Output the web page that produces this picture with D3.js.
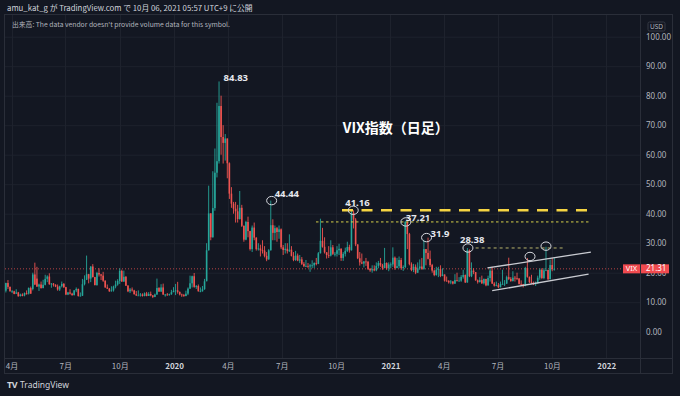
<!DOCTYPE html>
<html>
<head>
<meta charset="utf-8">
<script src="https://cdn.jsdelivr.net/npm/d3@7"></script>
<style>
  body { margin: 0; background: #131722; }
  svg { display: block; font-family: "Noto Sans", "Noto Sans CJK JP", sans-serif; }
</style>
</head>
<body>
<script>
// VIX daily chart, resampled to half-week candles [open, high, low, close]
// each year list starts on the Monday given in weekStarts; two candles per week
const weekStarts = { y2019: "2019-03-18", y2020: "2020-01-06", y2021: "2021-01-04" }

const vix2019 = [
  [13.0,14.6,12.7,13.9],[13.9,16.6,13.3,16.5], [16.5,17.5,14.5,15.2],[15.2,15.3,13.6,13.7],
  [13.6,14.1,13.1,13.7],[13.7,13.9,12.7,12.8], [12.9,14.4,12.8,13.3],[13.3,13.5,11.9,12.0],
  [12.1,12.9,11.9,12.6],[12.6,13.0,12.0,12.1], [12.3,13.3,12.0,13.1],[13.1,14.0,12.6,12.7],
  [12.9,15.0,12.6,14.8],[14.8,15.3,12.8,12.9], [14.5,20.0,14.0,19.4],[19.4,23.4,15.8,16.0],
  [18.0,22.0,15.2,15.3],[15.3,16.3,13.8,16.0], [16.0,17.0,14.6,14.8],[14.8,17.6,14.7,15.9],
  [15.9,19.3,15.7,17.9],[17.9,19.1,16.8,18.7], [18.7,19.8,15.9,16.1],[16.1,16.5,14.9,16.3],
  [16.3,16.5,15.3,15.9],[15.9,16.1,15.1,15.3], [15.3,16.0,13.9,14.3],[14.3,15.6,13.8,15.4],
  [15.4,17.0,15.0,16.2],[16.2,16.5,14.8,15.1], [15.1,15.2,12.4,12.6],[12.6,13.5,12.4,13.3],
  [13.3,14.4,12.6,12.9],[12.9,13.2,12.2,12.4], [12.4,14.1,12.3,14.0],[14.0,15.0,13.4,14.5],
  [14.5,14.6,11.9,12.1],[12.1,13.3,12.0,12.2], [12.2,17.9,12.1,16.1],[16.1,19.1,15.7,17.6],
  [17.6,25.8,17.5,19.5],[19.5,19.6,16.4,18.0], [18.0,22.2,16.8,22.1],[22.1,22.9,18.4,18.5],
  [18.5,18.6,15.7,15.8],[15.8,20.3,15.6,19.9], [19.9,21.5,18.7,19.4],[19.4,19.6,17.5,19.0],
  [19.0,20.3,16.9,17.3],[17.3,17.4,14.9,15.0], [15.0,16.0,14.5,14.6],[14.6,14.8,13.5,13.7],
  [13.7,15.4,13.6,14.0],[14.0,15.6,13.6,15.3], [15.3,17.3,14.7,16.0],[16.0,17.8,15.6,17.2],
  [17.2,21.5,16.2,20.6],[20.6,21.0,16.9,17.0], [17.0,20.7,16.9,18.6],[18.6,18.9,15.5,15.6],
  [15.6,15.8,13.4,13.7],[13.7,14.8,13.1,14.3], [14.3,15.0,13.6,14.0],[14.0,14.2,12.6,12.7],
  [12.7,13.8,12.1,12.3],[12.3,14.0,12.2,12.3], [12.3,13.1,11.9,12.6],[12.6,13.0,11.9,12.1],
  [12.1,13.3,12.0,13.0],[13.0,13.5,12.0,12.1], [12.1,13.4,12.1,12.8],[12.8,13.6,12.0,12.3],
  [12.3,12.4,11.4,11.8],[11.8,12.9,11.7,12.6], [12.6,18.0,12.5,14.8],[14.8,15.1,13.5,13.6],
  [13.6,16.1,13.5,15.0],[15.0,16.3,12.5,12.6], [12.6,12.8,11.9,12.6],[12.6,13.1,12.2,12.5],
  [12.5,12.9,12.2,12.7],[12.7,14.2,12.5,13.4], [13.4,15.1,13.4,13.8],[13.8,16.2,12.4,14.0]
]

const vix2020 = [
  [14.0,16.9,12.9,13.5],[13.5,13.6,12.3,12.6], [12.6,12.9,11.8,12.4],[12.4,12.8,11.8,12.1],
  [12.1,13.9,12.0,12.9],[12.9,15.0,12.4,14.6], [14.6,19.0,14.5,16.4],[16.4,19.0,15.0,18.8],
  [18.8,19.9,14.9,15.2],[15.2,15.8,14.5,15.5], [15.5,16.0,13.6,13.7],[13.7,15.0,13.4,13.7],
  [13.7,15.5,13.6,14.4],[14.4,17.9,14.2,17.1], [17.1,30.0,17.1,27.6],[27.6,49.5,27.5,40.1],
  [40.1,40.2,31.0,32.0],[32.0,54.4,31.9,41.9], [41.9,62.1,41.0,53.9],[53.9,77.6,52.3,57.8],
  [57.8,84.83,57.0,76.5],[76.5,80.0,60.0,66.0], [66.0,70.0,57.0,64.0],[64.0,67.0,58.0,65.5],
  [65.5,65.5,52.0,57.1],[57.1,57.4,45.0,46.8], [46.8,49.0,42.0,43.4],[43.4,44.0,40.0,41.7],
  [41.7,44.0,37.0,40.8],[40.8,43.0,37.0,38.2], [38.2,47.7,38.0,42.0],[42.0,43.0,35.5,35.9],
  [35.9,36.0,30.5,31.2],[31.2,37.6,31.0,37.2], [37.2,39.0,32.0,34.1],[34.1,34.2,27.5,28.0],
  [28.0,36.0,27.0,35.3],[35.3,37.0,31.0,31.9], [31.9,32.0,27.5,28.0],[28.0,30.0,27.5,28.2],
  [28.2,29.5,25.5,27.6],[27.6,31.0,26.5,27.5], [27.5,29.0,25.2,25.7],[25.7,27.0,23.9,24.5],
  [24.5,28.0,24.4,27.6],[27.6,44.44,27.5,36.1], [36.1,38.1,31.0,33.5],[33.5,36.0,31.0,35.1],
  [35.1,35.5,30.5,33.8],[33.8,36.0,31.5,34.7], [34.7,35.0,28.0,28.6],[28.6,29.4,26.0,27.7],
  [27.7,30.0,26.5,28.1],[28.1,30.0,26.5,27.3], [27.3,33.0,27.0,27.8],[27.8,29.0,25.5,25.7],
  [25.7,27.0,23.9,24.3],[24.3,27.4,24.0,25.8], [25.8,26.5,23.9,24.1],[24.1,26.0,23.3,24.5],
  [24.5,25.3,22.6,23.0],[23.0,23.6,21.9,22.2], [22.2,24.3,21.9,22.3],[22.3,23.3,21.6,22.1],
  [22.1,23.0,20.3,22.5],[22.5,24.2,21.5,22.5], [22.5,23.5,21.6,23.3],[23.3,25.0,22.5,23.0],
  [23.0,27.0,22.9,26.6],[26.6,38.3,26.5,30.8], [30.8,35.2,28.5,28.8],[28.8,32.0,26.5,26.9],
  [26.9,27.0,24.8,26.0],[26.0,29.0,25.0,25.8], [25.8,31.0,25.5,28.6],[28.6,29.4,26.0,26.4],
  [26.4,27.0,25.5,26.4],[26.4,29.0,25.5,27.6], [27.6,29.8,26.0,28.1],[28.1,28.3,24.0,25.0],
  [25.0,27.0,24.0,26.4],[26.4,28.5,25.5,27.4], [27.4,30.5,27.0,28.7],[28.7,29.5,26.8,27.6],
  [27.6,41.0,27.5,40.3],[40.3,41.16,35.0,38.0], [38.0,38.5,29.0,29.6],[29.6,29.6,24.6,24.9],
  [24.9,27.0,22.4,23.5],[23.5,26.5,22.9,23.1], [23.1,24.0,21.8,23.8],[23.8,25.0,22.3,23.7],
  [23.7,24.0,20.9,21.3],[21.3,21.6,20.3,20.8], [20.8,22.5,20.0,21.2],[21.2,22.5,20.5,20.8],
  [20.8,23.5,20.5,22.3],[22.3,24.0,21.5,23.3], [23.3,25.0,22.0,22.5],[22.5,23.0,21.0,21.6],
  [21.6,28.4,21.5,23.3],[23.3,23.5,21.0,21.5], [21.5,23.5,20.5,22.8],[22.8,23.5,21.5,22.8]
]

const vix2021 = [
  [22.8,28.6,22.0,25.1],[25.1,25.5,21.0,21.6], [21.6,25.0,21.5,22.2],[22.2,25.5,21.5,24.3],
  [24.3,25.0,21.0,21.6],[21.6,22.5,20.6,21.9], [21.9,37.51,21.5,37.2],[37.2,37.3,28.0,33.1],
  [33.1,33.5,22.5,22.9],[22.9,23.5,20.5,20.9], [20.9,23.0,20.2,22.0],[22.0,22.8,19.5,20.0],
  [20.0,23.5,19.9,21.5],[21.5,24.5,21.0,22.1], [22.1,25.0,21.0,21.3],[21.3,31.16,21.0,28.0],
  [28.0,28.0,22.5,26.7],[26.7,31.9,24.5,24.7], [24.7,27.5,22.0,22.6],[22.6,23.0,20.0,20.7],
  [20.7,21.0,18.8,19.2],[19.2,22.0,19.0,21.0], [21.0,22.0,18.5,21.2],[21.2,22.5,18.5,18.9],
  [18.9,21.5,18.8,19.4],[19.4,19.4,17.0,17.3], [17.3,18.7,17.0,17.2],[17.2,17.5,16.3,16.7],
  [16.7,17.5,16.1,17.0],[17.0,17.2,16.0,16.3], [16.3,19.5,16.2,17.5],[17.5,20.0,17.0,17.3],
  [17.3,18.5,17.0,17.3],[17.3,19.2,16.9,18.6], [18.6,21.0,18.0,19.2],[19.2,19.4,16.5,16.7],
  [16.7,28.38,16.6,27.6],[27.6,27.9,18.5,18.8], [18.8,23.5,18.5,20.7],[20.7,21.5,19.5,20.2],
  [20.2,20.2,17.3,17.4],[17.4,17.7,16.3,16.8], [16.8,18.5,16.7,17.5],[17.5,19.0,16.2,16.4],
  [16.4,18.0,16.0,17.9],[17.9,17.9,15.4,15.7], [15.7,19.0,15.6,18.2],[18.2,21.8,17.0,20.7],
  [20.7,22.0,16.2,16.3],[16.3,16.8,15.3,15.6], [15.6,17.0,15.4,15.8],[15.8,16.5,14.8,15.1],
  [15.1,17.0,15.0,16.2],[16.2,21.0,16.0,16.2], [16.2,17.5,15.5,16.3],[16.3,19.0,16.2,18.5],
  [18.5,25.09,17.5,17.9],[17.9,18.5,16.9,17.2], [17.2,20.5,17.0,18.3],[18.3,18.9,17.0,18.2],
  [18.2,20.0,17.5,18.0],[18.0,18.2,16.0,16.2], [16.2,17.4,15.8,16.1],[16.1,16.2,15.0,15.5],
  [15.5,22.0,15.4,21.6],[21.6,25.0,18.3,18.6], [18.6,18.7,16.5,16.8],[16.8,19.3,16.3,16.4],
  [16.4,17.0,15.8,16.1],[16.1,17.0,15.5,16.4], [16.4,19.0,16.3,18.3],[18.3,21.5,17.6,21.0],
  [21.0,21.5,17.8,18.2],[18.2,21.5,17.8,20.8], [20.8,28.79,20.5,20.9],[20.9,21.0,17.5,17.8],
  [17.8,24.5,17.7,22.6],[22.6,25.0,20.5,21.2], [21.2,25.0,20.7,21.31]
]

const lastPrice = 21.31
const priceTicks = [0, 10, 20, 30, 40, 50, 60, 70, 80, 90, 100]

// marked highs: ellipse on the high, label beside it
const peakMarks = [
  { date: "2020-03-18", value: 84.83, text: "84.83", ring: false, dx: 4,  dy: -3 },
  { date: "2020-06-14", value: 44.44, text: "44.44", ring: true,  dx: 3,  dy: -6 },
  { date: "2020-10-30", value: 41.16, text: "41.16", ring: true,  dx: -8, dy: -7 },
  { date: "2021-01-27", value: 37.21, text: "37.21", ring: true,  dx: 0,  dy: -4 },
  { date: "2021-03-03", value: 31.9,  text: "31.9",  ring: true,  dx: 4,  dy: -3 },
  { date: "2021-05-12", value: 28.38, text: "28.38", ring: true,  dx: -8, dy: -8 },
  { date: "2021-08-25", value: 25.5,  text: "",      ring: true,  dx: 0,  dy: 0 },
  { date: "2021-09-21", value: 29.0,  text: "",      ring: true,  dx: 0,  dy: 0 }
]

// horizontal levels drawn by the author
const levels = [
  { from: "2020-10-11", to: "2021-12-06", value: 41.16, kind: "thick" },
  { from: "2020-08-28", to: "2021-12-06", value: 37.21, kind: "dots" },
  { from: "2021-05-25", to: "2021-10-24", value: 28.38, kind: "dash" }
]

// rising channel
const channel = [
  { from: ["2021-06-14", 21.6], to: ["2021-12-06", 27.0] },
  { from: ["2021-06-22", 13.9], to: ["2021-12-02", 19.5] }
]

const W = 680, H = 396
const pane = { left: 5, top: 15, right: 640, bottom: 358, axisRight: 672, axisBottom: 373 }
const parse = d3.utcParse("%Y-%m-%d")

function toCandles(rows, start) {
  const t0 = parse(start)
  return rows.map((r, i) => ({
    date: d3.utcHour.offset(t0, 24 + i * 84),
    o: r[0], h: r[1], l: r[2], c: r[3]
  }))
}
const candles = [].concat(
  toCandles(vix2019, weekStarts.y2019),
  toCandles(vix2020, weekStarts.y2020),
  toCandles(vix2021, weekStarts.y2021)
)

const x = d3.scaleUtc()
  .domain([parse("2019-03-21"), parse("2022-02-27")])
  .range([pane.left, pane.right])
const y = d3.scaleLinear()
  .domain([0, 100])
  .range([331.7, 36.7])

const svg = d3.select("body").append("svg")
  .attr("width", W).attr("height", H)

svg.append("rect").attr("width", W).attr("height", H).attr("fill", "#131722")

svg.append("clipPath").attr("id", "pane")
  .append("rect")
  .attr("x", pane.left).attr("y", pane.top)
  .attr("width", pane.right - pane.left).attr("height", pane.bottom - pane.top)

// grid
const timeTicks = d3.utcMonth.every(3).range(parse("2019-04-01"), parse("2022-01-02"))
const grid = svg.append("g").attr("clip-path", "url(#pane)")
grid.selectAll(".gh").data(priceTicks).join("line")
  .attr("x1", pane.left).attr("x2", pane.right)
  .attr("y1", d => y(d) + 0.5).attr("y2", d => y(d) + 0.5)
  .attr("stroke", "#1e222d")
grid.selectAll(".gv").data(timeTicks).join("line")
  .attr("x1", d => Math.round(x(d)) + 0.5).attr("x2", d => Math.round(x(d)) + 0.5)
  .attr("y1", pane.top).attr("y2", pane.bottom)
  .attr("stroke", "#1e222d")

// frame
const frame = svg.append("g").attr("stroke", "#2a2e39").attr("fill", "none")
frame.append("rect")
  .attr("x", pane.left - 0.5).attr("y", pane.top - 0.5)
  .attr("width", pane.axisRight - pane.left + 1).attr("height", pane.axisBottom - pane.top + 1)
frame.append("line")
  .attr("x1", pane.right + 0.5).attr("x2", pane.right + 0.5)
  .attr("y1", pane.top).attr("y2", pane.axisBottom)
frame.append("line")
  .attr("x1", pane.left).attr("x2", pane.axisRight)
  .attr("y1", pane.bottom + 0.5).attr("y2", pane.bottom + 0.5)

// last price line
svg.append("line")
  .attr("clip-path", "url(#pane)")
  .attr("x1", pane.left).attr("x2", pane.right)
  .attr("y1", y(lastPrice)).attr("y2", y(lastPrice))
  .attr("stroke", "#ef5350").attr("stroke-opacity", 0.75)
  .attr("stroke-dasharray", "1,2")

// candles
const up = "#26a69a", down = "#ef5350"
const plot = svg.append("g").attr("clip-path", "url(#pane)")
const bar = plot.selectAll("g.c").data(candles).join("g")
  .attr("fill", d => d.c >= d.o ? up : down)
  .attr("stroke", d => d.c >= d.o ? up : down)
bar.append("line")
  .attr("x1", d => x(d.date)).attr("x2", d => x(d.date))
  .attr("y1", d => y(Math.max(d.h, d.o, d.c))).attr("y2", d => y(Math.min(d.l, d.o, d.c)))
  .attr("stroke-width", 0.9)
bar.append("rect")
  .attr("stroke", "none")
  .attr("x", d => x(d.date) - 0.8).attr("width", 1.6)
  .attr("y", d => y(Math.max(d.o, d.c)))
  .attr("height", d => Math.max(0.8, Math.abs(y(d.o) - y(d.c))))

// author drawings
const draw = svg.append("g").attr("clip-path", "url(#pane)")
draw.selectAll(".lvl").data(levels).join("line")
  .attr("x1", d => x(parse(d.from))).attr("x2", d => x(parse(d.to)))
  .attr("y1", d => y(d.value)).attr("y2", d => y(d.value))
  .attr("stroke", d => d.kind === "thick" ? "#f5d442" : d.kind === "dots" ? "#d6d04a" : "#b9b46a")
  .attr("stroke-width", d => d.kind === "thick" ? 2.6 : 1)
  .attr("stroke-dasharray", d => d.kind === "thick" ? "11,8.5" : d.kind === "dots" ? "2.5,2.5" : "3,3")

draw.selectAll(".ch").data(channel).join("line")
  .attr("x1", d => x(parse(d.from[0]))).attr("y1", d => y(d.from[1]))
  .attr("x2", d => x(parse(d.to[0]))).attr("y2", d => y(d.to[1]))
  .attr("stroke", "#c9cbd1").attr("stroke-width", 1.3)

const marks = draw.selectAll(".pk").data(peakMarks).join("g")
  .attr("transform", d => `translate(${x(parse(d.date))},${y(d.value)})`)
marks.filter(d => d.ring).append("ellipse")
  .attr("rx", 5).attr("ry", 4.2)
  .attr("fill", "none").attr("stroke", "#d8dae0").attr("stroke-width", 1)
marks.append("text")
  .attr("x", d => d.dx).attr("y", d => d.dy)
  .attr("dominant-baseline", "middle")
  .attr("fill", "#e6e8ee").attr("font-size", 9.5).attr("font-weight", 700)
  .text(d => d.text)

// title
svg.append("text")
  .attr("x", x(parse("2021-01-10"))).attr("y", y(68.5))
  .attr("text-anchor", "middle").attr("dominant-baseline", "middle")
  .attr("fill", "#ffffff").attr("font-size", 14).attr("font-weight", 700)
  .attr("font-family", "'Noto Sans CJK JP', 'Noto Sans', sans-serif")
  .text("VIX指数（日足）")

// price axis
const yAxis = svg.append("g")
  .attr("transform", `translate(${pane.right + 6},0)`)
  .call(d3.axisRight(y).tickValues(priceTicks).tickSize(0).tickPadding(0).tickFormat(d3.format(".2f")))
yAxis.select(".domain").remove()
yAxis.selectAll("text").attr("fill", "#b2b5be").attr("font-size", 8).attr("font-family", "'Noto Sans', sans-serif")

// currency tag
const usd = svg.append("g").attr("transform", `translate(${pane.right + 8},${pane.top + 7})`)
usd.append("rect").attr("width", 17).attr("height", 9).attr("rx", 1.5)
  .attr("fill", "#131722").attr("stroke", "#363a45")
usd.append("text").attr("x", 8.5).attr("y", 5).attr("text-anchor", "middle")
  .attr("dominant-baseline", "middle").attr("fill", "#b2b5be").attr("font-size", 6.5).text("USD")

// last price tag (covers the 20.00 tick as in the original)
const tag = svg.append("g").attr("transform", `translate(0,${y(lastPrice)})`)
tag.append("rect").attr("x", pane.right - 17).attr("y", -4.5).attr("width", 17).attr("height", 9).attr("fill", "#f04a4f")
tag.append("text").attr("x", pane.right - 8.5).attr("y", 0.5).attr("text-anchor", "middle")
  .attr("dominant-baseline", "middle").attr("fill", "#fff").attr("font-size", 7.5).text("VIX")
tag.append("rect").attr("x", pane.right + 1).attr("y", -4.5).attr("width", 28).attr("height", 9).attr("fill", "#f04a4f")
tag.append("text").attr("x", pane.right + 6).attr("y", 0.5)
  .attr("dominant-baseline", "middle").attr("fill", "#fff").attr("font-size", 8).text(d3.format(".2f")(lastPrice))

// time axis
const xAxis = svg.append("g")
  .attr("transform", `translate(0,${pane.bottom + 8})`)
  .call(d3.axisBottom(x).tickValues(timeTicks).tickSize(0).tickPadding(0)
    .tickFormat(d => d.getUTCMonth() === 0 ? d3.utcFormat("%Y")(d) : (d.getUTCMonth() + 1) + "月"))
xAxis.select(".domain").remove()
xAxis.selectAll("text")
  .attr("dy", "0.35em")
  .attr("fill", d => d.getUTCMonth() === 0 ? "#d1d4dc" : "#b2b5be")
  .attr("font-weight", d => d.getUTCMonth() === 0 ? 700 : 400)
  .attr("font-size", 8).attr("font-family", "'Noto Sans CJK JP', sans-serif")

// header and notes
svg.append("text").attr("x", 7).attr("y", 9)
  .attr("dominant-baseline", "middle").attr("fill", "#d1d4dc").attr("font-size", 7.8)
  .attr("font-family", "'Noto Sans CJK JP', sans-serif")
  .text("amu_kat_g が TradingView.com で 10月 06, 2021 05:57 UTC+9 に公開")
svg.append("text").attr("x", 12).attr("y", 25)
  .attr("dominant-baseline", "middle").attr("fill", "#b2b5be").attr("font-size", 6.8)
  .attr("font-family", "'Noto Sans CJK JP', sans-serif")
  .text("出来高: The data vendor doesn't provide volume data for this symbol.")

const logo = svg.append("g").attr("transform", "translate(7,386)")
logo.append("text").attr("dominant-baseline", "middle").attr("fill", "#d1d4dc")
  .attr("font-size", 9).attr("font-weight", 700).attr("letter-spacing", -0.5).text("TV")
logo.append("text").attr("x", 13).attr("dominant-baseline", "middle").attr("fill", "#d1d4dc")
  .attr("font-size", 8.5).text("TradingView")
</script>
</body>
</html>
